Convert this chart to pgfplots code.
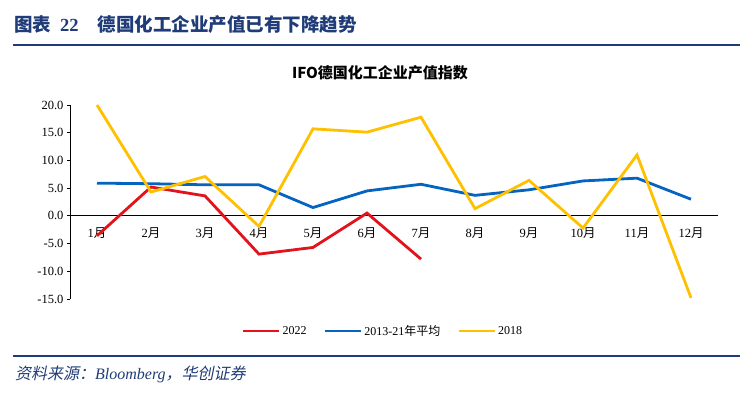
\documentclass[border=0pt]{standalone}
\usepackage{fontspec}
\usepackage{pgfplots}
\pgfplotsset{compat=1.18}
\setmainfont{Liberation Serif}
\newfontfamily\cjk{Noto Sans CJK SC}
\newfontfamily\cjkit{Noto Sans CJK SC}[FakeSlant=0.2]
\definecolor{titleblue}{HTML}{1F3C78}
\definecolor{cred}{HTML}{E3131B}
\definecolor{cblue}{HTML}{0563C1}
\definecolor{cyellow}{HTML}{FFC000}
\begin{document}
\begin{tikzpicture}[x=1pt,y=1pt]
\path[use as bounding box] (0,0) rectangle (753,397);
% header
\node[anchor=west,inner sep=0pt,text=titleblue,font=\fontsize{18.5}{22}\selectfont] at (14,372)
  {{\cjk\bfseries 图表}\hspace{9pt}\textbf{22}\hspace{19pt}{\cjk\bfseries 德国化工企业产值已有下降趋势}};
\draw[titleblue,line width=1.5pt] (13,352) -- (740,352);
\draw[titleblue,line width=1.5pt] (13,41) -- (740,41);
\node[anchor=west,inner sep=0pt,text=titleblue,font=\fontsize{16}{19}\selectfont] at (15,23)
  {{\cjkit 资料来源：}\textit{Bloomberg}{\cjkit ，华创证券}};
\node[inner sep=0pt,font=\fontsize{15}{18}\selectfont] at (380,324)
  {{\cjk\bfseries IFO德国化工企业产值指数}};
\begin{axis}[
  at={(70pt,98pt)}, anchor=south west,
  scale only axis, width=648pt, height=194pt,
  xmin=0.5, xmax=12.5, ymin=-15, ymax=20,
  axis x line*=middle, axis y line*=left,
  xtick={1,...,12},
  xticklabels={1{\cjk 月},2{\cjk 月},3{\cjk 月},4{\cjk 月},5{\cjk 月},6{\cjk 月},7{\cjk 月},8{\cjk 月},9{\cjk 月},10{\cjk 月},11{\cjk 月},12{\cjk 月}},
  minor xtick={0.5,1.5,...,12.5},
  xtick style={draw=none},
  minor x tick style={black, line width=0.8pt},
  xtick align=outside, ytick align=outside,
  major tick length=3pt, minor tick length=4pt,
  ytick={-15,-10,...,20},
  ytick style={black, line width=0.8pt},
  axis line style={black, line width=0.9pt},
  tick label style={font=\fontsize{12.5}{14}\selectfont},
  xticklabel style={yshift=-5pt},
  yticklabel style={/pgf/number format/.cd,fixed,fixed zerofill,precision=1,assume math mode=true},
  legend style={at={(0.483,-0.165)}, anchor=center, draw=none, fill=none,
    legend columns=3, font=\fontsize{12}{14}\selectfont,
    /tikz/every even column/.append style={column sep=15pt}},
  legend image code/.code={\draw[#1] (0pt,0pt) -- (36pt,0pt);},
  every axis plot/.append style={line width=2.8pt},
  clip=false,
]
\addplot[cred] coordinates {(1,-3.6) (2,5.2) (3,3.6) (4,-6.9) (5,-5.7) (6,0.5) (7,-7.8)};
\addlegendentry{2022}
\addplot[cblue] coordinates {(1,5.9) (2,5.8) (3,5.6) (4,5.6) (5,1.5) (6,4.5) (7,5.7) (8,3.7) (9,4.7) (10,6.3) (11,6.8) (12,3.0)};
\addlegendentry{2013-21{\cjk 年平均}}
\addplot[cyellow] coordinates {(1,20.0) (2,4.3) (3,7.1) (4,-1.9) (5,15.7) (6,15.1) (7,17.8) (8,1.3) (9,6.4) (10,-2.2) (11,11.0) (12,-14.8)};
\addlegendentry{2018}
\end{axis}
\end{tikzpicture}
\end{document}
